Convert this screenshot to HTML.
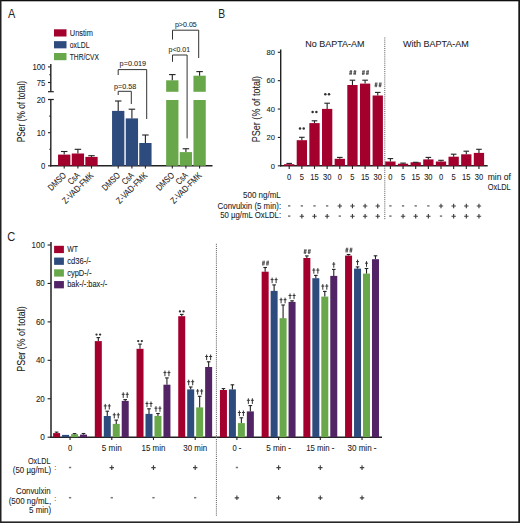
<!DOCTYPE html>
<html><head><meta charset="utf-8"><title>figure</title>
<style>
html,body{margin:0;padding:0;background:#fff;}
body{width:520px;height:523px;overflow:hidden;}
svg{display:block;font-family:"Liberation Sans", sans-serif;}
</style></head>
<body>
<svg width="520" height="523" viewBox="0 0 520 523">
<rect x="0" y="0" width="520" height="523" fill="#fff"/>
<text x="7.90" y="17.90" font-size="12.5" textLength="7.30" lengthAdjust="spacingAndGlyphs" fill="#222" stroke="#222" stroke-width="0">A</text>
<rect x="54.00" y="29.30" width="12.50" height="7.20" fill="#a3002d"/>
<text x="69.80" y="35.80" font-size="8.3" textLength="23.10" lengthAdjust="spacingAndGlyphs" fill="#222" stroke="#222" stroke-width="0.08">Unstim</text>
<rect x="54.00" y="41.15" width="12.50" height="7.20" fill="#2e4b7e"/>
<text x="69.80" y="47.65" font-size="8.3" textLength="19.80" lengthAdjust="spacingAndGlyphs" fill="#222" stroke="#222" stroke-width="0.08">oxLDL</text>
<rect x="54.00" y="53.00" width="12.50" height="7.20" fill="#69a84a"/>
<text x="69.80" y="59.50" font-size="8.3" textLength="29.20" lengthAdjust="spacingAndGlyphs" fill="#222" stroke="#222" stroke-width="0.08">THR/CVX</text>
<line x1="50.80" y1="64.00" x2="50.80" y2="91.70" stroke="#222" stroke-width="1.4"/>
<line x1="50.80" y1="99.50" x2="50.80" y2="166.40" stroke="#222" stroke-width="1.4"/>
<line x1="48.00" y1="91.70" x2="53.80" y2="91.70" stroke="#222" stroke-width="1.2"/>
<line x1="48.00" y1="99.50" x2="53.80" y2="99.50" stroke="#222" stroke-width="1.2"/>
<line x1="48.00" y1="66.90" x2="50.80" y2="66.90" stroke="#222" stroke-width="1.1"/>
<line x1="48.00" y1="82.50" x2="50.80" y2="82.50" stroke="#222" stroke-width="1.1"/>
<line x1="49.30" y1="74.70" x2="50.80" y2="74.70" stroke="#222" stroke-width="1.1"/>
<line x1="48.00" y1="132.70" x2="50.80" y2="132.70" stroke="#222" stroke-width="1.1"/>
<line x1="48.00" y1="165.80" x2="50.80" y2="165.80" stroke="#222" stroke-width="1.1"/>
<line x1="49.30" y1="149.25" x2="50.80" y2="149.25" stroke="#222" stroke-width="1.1"/>
<line x1="49.30" y1="116.15" x2="50.80" y2="116.15" stroke="#222" stroke-width="1.1"/>
<text x="45.40" y="69.90" font-size="8.6" text-anchor="end" textLength="12.90" lengthAdjust="spacingAndGlyphs" fill="#222" stroke="#222" stroke-width="0.08">100</text>
<text x="45.40" y="85.50" font-size="8.6" text-anchor="end" textLength="8.60" lengthAdjust="spacingAndGlyphs" fill="#222" stroke="#222" stroke-width="0.08">75</text>
<text x="45.40" y="102.60" font-size="8.6" text-anchor="end" textLength="8.60" lengthAdjust="spacingAndGlyphs" fill="#222" stroke="#222" stroke-width="0.08">20</text>
<text x="45.40" y="135.70" font-size="8.6" text-anchor="end" textLength="8.60" lengthAdjust="spacingAndGlyphs" fill="#222" stroke="#222" stroke-width="0.08">10</text>
<text x="45.40" y="168.80" font-size="8.6" text-anchor="end" textLength="4.30" lengthAdjust="spacingAndGlyphs" fill="#222" stroke="#222" stroke-width="0.08">0</text>
<text transform="translate(24.60,111.60) rotate(-90)" font-size="10.3" text-anchor="middle" textLength="61.50" lengthAdjust="spacingAndGlyphs" fill="#222" stroke="#222" stroke-width="0.08">PSer (% of total)</text>
<line x1="50.10" y1="165.80" x2="212.50" y2="165.80" stroke="#222" stroke-width="1.4"/>
<rect x="58.05" y="154.60" width="12.30" height="11.20" fill="#a3002d"/>
<line x1="64.20" y1="151.50" x2="64.20" y2="154.60" stroke="#222" stroke-width="1.1"/>
<line x1="60.95" y1="151.50" x2="67.45" y2="151.50" stroke="#222" stroke-width="1.1"/>
<rect x="71.75" y="153.50" width="12.30" height="12.30" fill="#a3002d"/>
<line x1="77.90" y1="149.30" x2="77.90" y2="153.50" stroke="#222" stroke-width="1.1"/>
<line x1="74.65" y1="149.30" x2="81.15" y2="149.30" stroke="#222" stroke-width="1.1"/>
<rect x="85.35" y="156.90" width="12.30" height="8.90" fill="#a3002d"/>
<line x1="91.50" y1="155.70" x2="91.50" y2="156.90" stroke="#222" stroke-width="1.1"/>
<line x1="88.25" y1="155.70" x2="94.75" y2="155.70" stroke="#222" stroke-width="1.1"/>
<rect x="112.05" y="110.90" width="12.30" height="54.90" fill="#2e4b7e"/>
<line x1="118.20" y1="101.00" x2="118.20" y2="110.90" stroke="#222" stroke-width="1.1"/>
<line x1="114.95" y1="101.00" x2="121.45" y2="101.00" stroke="#222" stroke-width="1.1"/>
<rect x="125.75" y="118.40" width="12.30" height="47.40" fill="#2e4b7e"/>
<line x1="131.90" y1="109.20" x2="131.90" y2="118.40" stroke="#222" stroke-width="1.1"/>
<line x1="128.65" y1="109.20" x2="135.15" y2="109.20" stroke="#222" stroke-width="1.1"/>
<rect x="139.25" y="143.00" width="12.30" height="22.80" fill="#2e4b7e"/>
<line x1="145.40" y1="135.00" x2="145.40" y2="143.00" stroke="#222" stroke-width="1.1"/>
<line x1="142.15" y1="135.00" x2="148.65" y2="135.00" stroke="#222" stroke-width="1.1"/>
<rect x="166.15" y="80.30" width="12.30" height="11.50" fill="#69a84a"/>
<rect x="166.15" y="100.00" width="12.30" height="65.80" fill="#69a84a"/>
<line x1="172.30" y1="74.60" x2="172.30" y2="80.30" stroke="#222" stroke-width="1.1"/>
<line x1="169.05" y1="74.60" x2="175.55" y2="74.60" stroke="#222" stroke-width="1.1"/>
<rect x="179.75" y="152.10" width="12.30" height="13.70" fill="#69a84a"/>
<line x1="185.90" y1="148.75" x2="185.90" y2="152.10" stroke="#222" stroke-width="1.1"/>
<line x1="182.65" y1="148.75" x2="189.15" y2="148.75" stroke="#222" stroke-width="1.1"/>
<rect x="193.45" y="75.70" width="12.30" height="16.10" fill="#69a84a"/>
<rect x="193.45" y="100.00" width="12.30" height="65.80" fill="#69a84a"/>
<line x1="199.60" y1="71.60" x2="199.60" y2="75.70" stroke="#222" stroke-width="1.1"/>
<line x1="196.35" y1="71.60" x2="202.85" y2="71.60" stroke="#222" stroke-width="1.1"/>
<line x1="64.20" y1="165.80" x2="64.20" y2="168.60" stroke="#222" stroke-width="1.1"/>
<line x1="77.90" y1="165.80" x2="77.90" y2="168.60" stroke="#222" stroke-width="1.1"/>
<line x1="91.50" y1="165.80" x2="91.50" y2="168.60" stroke="#222" stroke-width="1.1"/>
<line x1="118.20" y1="165.80" x2="118.20" y2="168.60" stroke="#222" stroke-width="1.1"/>
<line x1="131.90" y1="165.80" x2="131.90" y2="168.60" stroke="#222" stroke-width="1.1"/>
<line x1="145.40" y1="165.80" x2="145.40" y2="168.60" stroke="#222" stroke-width="1.1"/>
<line x1="172.30" y1="165.80" x2="172.30" y2="168.60" stroke="#222" stroke-width="1.1"/>
<line x1="185.90" y1="165.80" x2="185.90" y2="168.60" stroke="#222" stroke-width="1.1"/>
<line x1="199.60" y1="165.80" x2="199.60" y2="168.60" stroke="#222" stroke-width="1.1"/>
<text transform="translate(66.80,176.00) rotate(-45)" font-size="9" text-anchor="end" textLength="21.5" lengthAdjust="spacingAndGlyphs" fill="#222" stroke="#222" stroke-width="0.08">DMSO</text>
<text transform="translate(80.50,176.00) rotate(-45)" font-size="9" text-anchor="end" textLength="13.0" lengthAdjust="spacingAndGlyphs" fill="#222" stroke="#222" stroke-width="0.08">CsA</text>
<text transform="translate(94.10,176.00) rotate(-45)" font-size="9" text-anchor="end" textLength="40.0" lengthAdjust="spacingAndGlyphs" fill="#222" stroke="#222" stroke-width="0.08">Z-VAD-FMK</text>
<text transform="translate(120.80,176.00) rotate(-45)" font-size="9" text-anchor="end" textLength="21.5" lengthAdjust="spacingAndGlyphs" fill="#222" stroke="#222" stroke-width="0.08">DMSO</text>
<text transform="translate(134.50,176.00) rotate(-45)" font-size="9" text-anchor="end" textLength="13.0" lengthAdjust="spacingAndGlyphs" fill="#222" stroke="#222" stroke-width="0.08">CsA</text>
<text transform="translate(148.00,176.00) rotate(-45)" font-size="9" text-anchor="end" textLength="40.0" lengthAdjust="spacingAndGlyphs" fill="#222" stroke="#222" stroke-width="0.08">Z-VAD-FMK</text>
<text transform="translate(174.90,176.00) rotate(-45)" font-size="9" text-anchor="end" textLength="21.5" lengthAdjust="spacingAndGlyphs" fill="#222" stroke="#222" stroke-width="0.08">DMSO</text>
<text transform="translate(188.50,176.00) rotate(-45)" font-size="9" text-anchor="end" textLength="13.0" lengthAdjust="spacingAndGlyphs" fill="#222" stroke="#222" stroke-width="0.08">CsA</text>
<text transform="translate(202.20,176.00) rotate(-45)" font-size="9" text-anchor="end" textLength="40.0" lengthAdjust="spacingAndGlyphs" fill="#222" stroke="#222" stroke-width="0.08">Z-VAD-FMK</text>
<polyline points="118.2,95.0 118.2,91.3 131.3,91.3 131.3,104.0" fill="none" stroke="#333" stroke-width="1"/>
<polyline points="118.2,75.0 118.2,69.6 146.7,69.6 146.7,119.0" fill="none" stroke="#333" stroke-width="1"/>
<polyline points="172.5,61.8 172.5,55.0 187.1,55.0 187.1,138.4" fill="none" stroke="#333" stroke-width="1"/>
<polyline points="172.5,39.6 172.5,30.2 198.7,30.2 198.7,58.0" fill="none" stroke="#333" stroke-width="1"/>
<text x="114.00" y="88.80" font-size="7.8" textLength="22.20" lengthAdjust="spacingAndGlyphs" fill="#2a2a2a" stroke="#2a2a2a" stroke-width="0.08">p=0.58</text>
<text x="119.60" y="66.30" font-size="7.8" textLength="26.50" lengthAdjust="spacingAndGlyphs" fill="#2a2a2a" stroke="#2a2a2a" stroke-width="0.08">p=0.019</text>
<text x="168.60" y="52.30" font-size="7.8" textLength="21.40" lengthAdjust="spacingAndGlyphs" fill="#2a2a2a" stroke="#2a2a2a" stroke-width="0.08">p&lt;0.01</text>
<text x="174.90" y="26.60" font-size="7.8" textLength="21.90" lengthAdjust="spacingAndGlyphs" fill="#2a2a2a" stroke="#2a2a2a" stroke-width="0.08">p&gt;0.05</text>
<text x="218.30" y="17.80" font-size="12.5" textLength="6.90" lengthAdjust="spacingAndGlyphs" fill="#222" stroke="#222" stroke-width="0">B</text>
<line x1="280.70" y1="49.60" x2="280.70" y2="166.40" stroke="#222" stroke-width="1.4"/>
<line x1="280.00" y1="165.80" x2="487.70" y2="165.80" stroke="#222" stroke-width="1.4"/>
<line x1="277.80" y1="165.80" x2="280.70" y2="165.80" stroke="#222" stroke-width="1.1"/>
<text x="275.00" y="168.60" font-size="8.0" text-anchor="end" textLength="4.20" lengthAdjust="spacingAndGlyphs" fill="#222" stroke="#222" stroke-width="0.08">0</text>
<line x1="277.80" y1="137.43" x2="280.70" y2="137.43" stroke="#222" stroke-width="1.1"/>
<text x="275.00" y="140.23" font-size="8.0" text-anchor="end" textLength="8.40" lengthAdjust="spacingAndGlyphs" fill="#222" stroke="#222" stroke-width="0.08">20</text>
<line x1="277.80" y1="109.05" x2="280.70" y2="109.05" stroke="#222" stroke-width="1.1"/>
<text x="275.00" y="111.85" font-size="8.0" text-anchor="end" textLength="8.40" lengthAdjust="spacingAndGlyphs" fill="#222" stroke="#222" stroke-width="0.08">40</text>
<line x1="277.80" y1="80.67" x2="280.70" y2="80.67" stroke="#222" stroke-width="1.1"/>
<text x="275.00" y="83.47" font-size="8.0" text-anchor="end" textLength="8.40" lengthAdjust="spacingAndGlyphs" fill="#222" stroke="#222" stroke-width="0.08">60</text>
<line x1="277.80" y1="52.30" x2="280.70" y2="52.30" stroke="#222" stroke-width="1.1"/>
<text x="275.00" y="55.10" font-size="8.0" text-anchor="end" textLength="8.40" lengthAdjust="spacingAndGlyphs" fill="#222" stroke="#222" stroke-width="0.08">80</text>
<text transform="translate(259.60,109.10) rotate(-90)" font-size="10.5" text-anchor="middle" textLength="66.20" lengthAdjust="spacingAndGlyphs" fill="#222" stroke="#222" stroke-width="0.08">PSer (% of total)</text>
<text x="305.20" y="47.00" font-size="9.8" textLength="59.30" lengthAdjust="spacingAndGlyphs" fill="#222" stroke="#222" stroke-width="0.08">No BAPTA-AM</text>
<text x="402.90" y="47.00" font-size="9.8" textLength="66.00" lengthAdjust="spacingAndGlyphs" fill="#222" stroke="#222" stroke-width="0.08">With BAPTA-AM</text>
<line x1="384.80" y1="37.50" x2="384.80" y2="219.50" stroke="#555" stroke-width="1.0" stroke-dasharray="1,1.1"/>
<rect x="284.05" y="164.20" width="10.30" height="1.60" fill="#a3002d"/>
<line x1="289.20" y1="163.40" x2="289.20" y2="164.20" stroke="#222" stroke-width="1.1"/>
<line x1="286.40" y1="163.40" x2="292.00" y2="163.40" stroke="#222" stroke-width="1.1"/>
<line x1="289.20" y1="165.80" x2="289.20" y2="168.90" stroke="#222" stroke-width="1.1"/>
<text x="289.20" y="179.60" font-size="8.4" text-anchor="middle" textLength="4.20" lengthAdjust="spacingAndGlyphs" fill="#222" stroke="#222" stroke-width="0.08">0</text>
<rect x="296.70" y="140.20" width="10.30" height="25.60" fill="#a3002d"/>
<line x1="301.85" y1="137.30" x2="301.85" y2="140.20" stroke="#222" stroke-width="1.1"/>
<line x1="299.05" y1="137.30" x2="304.65" y2="137.30" stroke="#222" stroke-width="1.1"/>
<line x1="301.85" y1="165.80" x2="301.85" y2="168.90" stroke="#222" stroke-width="1.1"/>
<text x="301.85" y="179.60" font-size="8.4" text-anchor="middle" textLength="4.20" lengthAdjust="spacingAndGlyphs" fill="#222" stroke="#222" stroke-width="0.08">5</text>
<rect x="309.35" y="123.10" width="10.30" height="42.70" fill="#a3002d"/>
<line x1="314.50" y1="120.80" x2="314.50" y2="123.10" stroke="#222" stroke-width="1.1"/>
<line x1="311.70" y1="120.80" x2="317.30" y2="120.80" stroke="#222" stroke-width="1.1"/>
<line x1="314.50" y1="165.80" x2="314.50" y2="168.90" stroke="#222" stroke-width="1.1"/>
<text x="314.50" y="179.60" font-size="8.4" text-anchor="middle" textLength="8.40" lengthAdjust="spacingAndGlyphs" fill="#222" stroke="#222" stroke-width="0.08">15</text>
<rect x="322.00" y="108.90" width="10.30" height="56.90" fill="#a3002d"/>
<line x1="327.15" y1="103.20" x2="327.15" y2="108.90" stroke="#222" stroke-width="1.1"/>
<line x1="324.35" y1="103.20" x2="329.95" y2="103.20" stroke="#222" stroke-width="1.1"/>
<line x1="327.15" y1="165.80" x2="327.15" y2="168.90" stroke="#222" stroke-width="1.1"/>
<text x="327.15" y="179.60" font-size="8.4" text-anchor="middle" textLength="8.40" lengthAdjust="spacingAndGlyphs" fill="#222" stroke="#222" stroke-width="0.08">30</text>
<rect x="334.65" y="158.80" width="10.30" height="7.00" fill="#a3002d"/>
<line x1="339.80" y1="157.40" x2="339.80" y2="158.80" stroke="#222" stroke-width="1.1"/>
<line x1="337.00" y1="157.40" x2="342.60" y2="157.40" stroke="#222" stroke-width="1.1"/>
<line x1="339.80" y1="165.80" x2="339.80" y2="168.90" stroke="#222" stroke-width="1.1"/>
<text x="339.80" y="179.60" font-size="8.4" text-anchor="middle" textLength="4.20" lengthAdjust="spacingAndGlyphs" fill="#222" stroke="#222" stroke-width="0.08">0</text>
<rect x="347.30" y="85.00" width="10.30" height="80.80" fill="#a3002d"/>
<line x1="352.45" y1="80.20" x2="352.45" y2="85.00" stroke="#222" stroke-width="1.1"/>
<line x1="349.65" y1="80.20" x2="355.25" y2="80.20" stroke="#222" stroke-width="1.1"/>
<line x1="352.45" y1="165.80" x2="352.45" y2="168.90" stroke="#222" stroke-width="1.1"/>
<text x="352.45" y="179.60" font-size="8.4" text-anchor="middle" textLength="4.20" lengthAdjust="spacingAndGlyphs" fill="#222" stroke="#222" stroke-width="0.08">5</text>
<rect x="359.95" y="83.60" width="10.30" height="82.20" fill="#a3002d"/>
<line x1="365.10" y1="80.20" x2="365.10" y2="83.60" stroke="#222" stroke-width="1.1"/>
<line x1="362.30" y1="80.20" x2="367.90" y2="80.20" stroke="#222" stroke-width="1.1"/>
<line x1="365.10" y1="165.80" x2="365.10" y2="168.90" stroke="#222" stroke-width="1.1"/>
<text x="365.10" y="179.60" font-size="8.4" text-anchor="middle" textLength="8.40" lengthAdjust="spacingAndGlyphs" fill="#222" stroke="#222" stroke-width="0.08">15</text>
<rect x="372.60" y="95.50" width="10.30" height="70.30" fill="#a3002d"/>
<line x1="377.75" y1="92.40" x2="377.75" y2="95.50" stroke="#222" stroke-width="1.1"/>
<line x1="374.95" y1="92.40" x2="380.55" y2="92.40" stroke="#222" stroke-width="1.1"/>
<line x1="377.75" y1="165.80" x2="377.75" y2="168.90" stroke="#222" stroke-width="1.1"/>
<text x="377.75" y="179.60" font-size="8.4" text-anchor="middle" textLength="8.40" lengthAdjust="spacingAndGlyphs" fill="#222" stroke="#222" stroke-width="0.08">30</text>
<rect x="385.25" y="161.50" width="10.30" height="4.30" fill="#a3002d"/>
<line x1="390.40" y1="158.60" x2="390.40" y2="161.50" stroke="#222" stroke-width="1.1"/>
<line x1="387.60" y1="158.60" x2="393.20" y2="158.60" stroke="#222" stroke-width="1.1"/>
<line x1="390.40" y1="165.80" x2="390.40" y2="168.90" stroke="#222" stroke-width="1.1"/>
<text x="390.40" y="179.60" font-size="8.4" text-anchor="middle" textLength="4.20" lengthAdjust="spacingAndGlyphs" fill="#222" stroke="#222" stroke-width="0.08">0</text>
<rect x="397.90" y="163.70" width="10.30" height="2.10" fill="#a3002d"/>
<line x1="403.05" y1="163.10" x2="403.05" y2="163.70" stroke="#222" stroke-width="1.1"/>
<line x1="400.25" y1="163.10" x2="405.85" y2="163.10" stroke="#222" stroke-width="1.1"/>
<line x1="403.05" y1="165.80" x2="403.05" y2="168.90" stroke="#222" stroke-width="1.1"/>
<text x="403.05" y="179.60" font-size="8.4" text-anchor="middle" textLength="4.20" lengthAdjust="spacingAndGlyphs" fill="#222" stroke="#222" stroke-width="0.08">5</text>
<rect x="410.55" y="162.30" width="10.30" height="3.50" fill="#a3002d"/>
<line x1="412.90" y1="162.30" x2="418.50" y2="162.30" stroke="#222" stroke-width="1.1"/>
<line x1="415.70" y1="165.80" x2="415.70" y2="168.90" stroke="#222" stroke-width="1.1"/>
<text x="415.70" y="179.60" font-size="8.4" text-anchor="middle" textLength="8.40" lengthAdjust="spacingAndGlyphs" fill="#222" stroke="#222" stroke-width="0.08">15</text>
<rect x="423.20" y="159.40" width="10.30" height="6.40" fill="#a3002d"/>
<line x1="428.35" y1="157.40" x2="428.35" y2="159.40" stroke="#222" stroke-width="1.1"/>
<line x1="425.55" y1="157.40" x2="431.15" y2="157.40" stroke="#222" stroke-width="1.1"/>
<line x1="428.35" y1="165.80" x2="428.35" y2="168.90" stroke="#222" stroke-width="1.1"/>
<text x="428.35" y="179.60" font-size="8.4" text-anchor="middle" textLength="8.40" lengthAdjust="spacingAndGlyphs" fill="#222" stroke="#222" stroke-width="0.08">30</text>
<rect x="435.85" y="161.50" width="10.30" height="4.30" fill="#a3002d"/>
<line x1="441.00" y1="160.30" x2="441.00" y2="161.50" stroke="#222" stroke-width="1.1"/>
<line x1="438.20" y1="160.30" x2="443.80" y2="160.30" stroke="#222" stroke-width="1.1"/>
<line x1="441.00" y1="165.80" x2="441.00" y2="168.90" stroke="#222" stroke-width="1.1"/>
<text x="441.00" y="179.60" font-size="8.4" text-anchor="middle" textLength="4.20" lengthAdjust="spacingAndGlyphs" fill="#222" stroke="#222" stroke-width="0.08">0</text>
<rect x="448.50" y="156.70" width="10.30" height="9.10" fill="#a3002d"/>
<line x1="453.65" y1="154.20" x2="453.65" y2="156.70" stroke="#222" stroke-width="1.1"/>
<line x1="450.85" y1="154.20" x2="456.45" y2="154.20" stroke="#222" stroke-width="1.1"/>
<line x1="453.65" y1="165.80" x2="453.65" y2="168.90" stroke="#222" stroke-width="1.1"/>
<text x="453.65" y="179.60" font-size="8.4" text-anchor="middle" textLength="4.20" lengthAdjust="spacingAndGlyphs" fill="#222" stroke="#222" stroke-width="0.08">5</text>
<rect x="461.15" y="154.30" width="10.30" height="11.50" fill="#a3002d"/>
<line x1="466.30" y1="151.20" x2="466.30" y2="154.30" stroke="#222" stroke-width="1.1"/>
<line x1="463.50" y1="151.20" x2="469.10" y2="151.20" stroke="#222" stroke-width="1.1"/>
<line x1="466.30" y1="165.80" x2="466.30" y2="168.90" stroke="#222" stroke-width="1.1"/>
<text x="466.30" y="179.60" font-size="8.4" text-anchor="middle" textLength="8.40" lengthAdjust="spacingAndGlyphs" fill="#222" stroke="#222" stroke-width="0.08">15</text>
<rect x="473.80" y="152.90" width="10.30" height="12.90" fill="#a3002d"/>
<line x1="478.95" y1="149.30" x2="478.95" y2="152.90" stroke="#222" stroke-width="1.1"/>
<line x1="476.15" y1="149.30" x2="481.75" y2="149.30" stroke="#222" stroke-width="1.1"/>
<line x1="478.95" y1="165.80" x2="478.95" y2="168.90" stroke="#222" stroke-width="1.1"/>
<text x="478.95" y="179.60" font-size="8.4" text-anchor="middle" textLength="8.40" lengthAdjust="spacingAndGlyphs" fill="#222" stroke="#222" stroke-width="0.08">30</text>
<text x="487.70" y="179.60" font-size="8.4" textLength="23.20" lengthAdjust="spacingAndGlyphs" fill="#222" stroke="#222" stroke-width="0.08">min of</text>
<text x="487.70" y="190.00" font-size="8.4" textLength="23.00" lengthAdjust="spacingAndGlyphs" fill="#222" stroke="#222" stroke-width="0.08">OxLDL</text>
<circle cx="300.00" cy="128.40" r="1.25" fill="#303030"/>
<circle cx="303.70" cy="128.40" r="1.25" fill="#303030"/>
<circle cx="312.65" cy="111.90" r="1.25" fill="#303030"/>
<circle cx="316.35" cy="111.90" r="1.25" fill="#303030"/>
<circle cx="325.30" cy="94.30" r="1.25" fill="#303030"/>
<circle cx="329.00" cy="94.30" r="1.25" fill="#303030"/>
<path d="M349.86,75.00L350.46,70.20M351.07,75.00L351.67,70.20M349.25,73.42H351.95M349.45,71.78H352.15" stroke="#4a4a4a" stroke-width="0.85" fill="none"/>
<path d="M353.96,75.00L354.56,70.20M355.17,75.00L355.77,70.20M353.35,73.42H356.05M353.55,71.78H356.25" stroke="#4a4a4a" stroke-width="0.85" fill="none"/>
<path d="M362.51,75.00L363.11,70.20M363.72,75.00L364.32,70.20M361.90,73.42H364.60M362.10,71.78H364.80" stroke="#4a4a4a" stroke-width="0.85" fill="none"/>
<path d="M366.61,75.00L367.21,70.20M367.82,75.00L368.43,70.20M366.00,73.42H368.70M366.20,71.78H368.90" stroke="#4a4a4a" stroke-width="0.85" fill="none"/>
<path d="M375.16,87.20L375.76,82.40M376.37,87.20L376.97,82.40M374.55,85.62H377.25M374.75,83.98H377.45" stroke="#4a4a4a" stroke-width="0.85" fill="none"/>
<path d="M379.26,87.20L379.86,82.40M380.47,87.20L381.07,82.40M378.65,85.62H381.35M378.85,83.98H381.55" stroke="#4a4a4a" stroke-width="0.85" fill="none"/>
<text x="280.80" y="198.20" font-size="8.5" text-anchor="end" textLength="37.80" lengthAdjust="spacingAndGlyphs" fill="#222" stroke="#222" stroke-width="0.08">500 ng/mL</text>
<text x="281.10" y="208.60" font-size="8.5" text-anchor="end" textLength="63.50" lengthAdjust="spacingAndGlyphs" fill="#222" stroke="#222" stroke-width="0.08">Convulxin (5 min):</text>
<text x="281.10" y="218.40" font-size="8.5" text-anchor="end" textLength="60.90" lengthAdjust="spacingAndGlyphs" fill="#222" stroke="#222" stroke-width="0.08">50 µg/mL OxLDL:</text>
<rect x="288.05" y="205.15" width="2.3" height="1.5" fill="#767676"/>
<rect x="288.05" y="215.35" width="2.3" height="1.5" fill="#767676"/>
<rect x="300.70" y="205.15" width="2.3" height="1.5" fill="#767676"/>
<path d="M299.65,216.20H304.05M301.85,213.90V218.50" stroke="#404040" stroke-width="1.15" fill="none"/>
<rect x="313.35" y="205.15" width="2.3" height="1.5" fill="#767676"/>
<path d="M312.30,216.20H316.70M314.50,213.90V218.50" stroke="#404040" stroke-width="1.15" fill="none"/>
<rect x="326.00" y="205.15" width="2.3" height="1.5" fill="#767676"/>
<path d="M324.95,216.20H329.35M327.15,213.90V218.50" stroke="#404040" stroke-width="1.15" fill="none"/>
<path d="M337.60,206.00H342.00M339.80,203.70V208.30" stroke="#404040" stroke-width="1.15" fill="none"/>
<rect x="338.65" y="215.35" width="2.3" height="1.5" fill="#767676"/>
<path d="M350.25,206.00H354.65M352.45,203.70V208.30" stroke="#404040" stroke-width="1.15" fill="none"/>
<path d="M350.25,216.20H354.65M352.45,213.90V218.50" stroke="#404040" stroke-width="1.15" fill="none"/>
<path d="M362.90,206.00H367.30M365.10,203.70V208.30" stroke="#404040" stroke-width="1.15" fill="none"/>
<path d="M362.90,216.20H367.30M365.10,213.90V218.50" stroke="#404040" stroke-width="1.15" fill="none"/>
<path d="M375.55,206.00H379.95M377.75,203.70V208.30" stroke="#404040" stroke-width="1.15" fill="none"/>
<path d="M375.55,216.20H379.95M377.75,213.90V218.50" stroke="#404040" stroke-width="1.15" fill="none"/>
<rect x="389.25" y="205.15" width="2.3" height="1.5" fill="#767676"/>
<rect x="389.25" y="215.35" width="2.3" height="1.5" fill="#767676"/>
<rect x="401.90" y="205.15" width="2.3" height="1.5" fill="#767676"/>
<path d="M400.85,216.20H405.25M403.05,213.90V218.50" stroke="#404040" stroke-width="1.15" fill="none"/>
<rect x="414.55" y="205.15" width="2.3" height="1.5" fill="#767676"/>
<path d="M413.50,216.20H417.90M415.70,213.90V218.50" stroke="#404040" stroke-width="1.15" fill="none"/>
<rect x="427.20" y="205.15" width="2.3" height="1.5" fill="#767676"/>
<path d="M426.15,216.20H430.55M428.35,213.90V218.50" stroke="#404040" stroke-width="1.15" fill="none"/>
<path d="M438.80,206.00H443.20M441.00,203.70V208.30" stroke="#404040" stroke-width="1.15" fill="none"/>
<rect x="439.85" y="215.35" width="2.3" height="1.5" fill="#767676"/>
<path d="M451.45,206.00H455.85M453.65,203.70V208.30" stroke="#404040" stroke-width="1.15" fill="none"/>
<path d="M451.45,216.20H455.85M453.65,213.90V218.50" stroke="#404040" stroke-width="1.15" fill="none"/>
<path d="M464.10,206.00H468.50M466.30,203.70V208.30" stroke="#404040" stroke-width="1.15" fill="none"/>
<path d="M464.10,216.20H468.50M466.30,213.90V218.50" stroke="#404040" stroke-width="1.15" fill="none"/>
<path d="M476.75,206.00H481.15M478.95,203.70V208.30" stroke="#404040" stroke-width="1.15" fill="none"/>
<path d="M476.75,216.20H481.15M478.95,213.90V218.50" stroke="#404040" stroke-width="1.15" fill="none"/>
<text x="7.30" y="240.80" font-size="12.5" textLength="8.00" lengthAdjust="spacingAndGlyphs" fill="#222" stroke="#222" stroke-width="0">C</text>
<line x1="51.00" y1="242.10" x2="51.00" y2="437.80" stroke="#222" stroke-width="1.5"/>
<line x1="50.30" y1="437.20" x2="382.00" y2="437.20" stroke="#222" stroke-width="1.5"/>
<line x1="47.60" y1="437.20" x2="51.00" y2="437.20" stroke="#222" stroke-width="1.1"/>
<text x="44.80" y="440.20" font-size="8.8" text-anchor="end" textLength="4.60" lengthAdjust="spacingAndGlyphs" fill="#222" stroke="#222" stroke-width="0.08">0</text>
<line x1="47.60" y1="398.76" x2="51.00" y2="398.76" stroke="#222" stroke-width="1.1"/>
<text x="44.80" y="401.76" font-size="8.8" text-anchor="end" textLength="8.90" lengthAdjust="spacingAndGlyphs" fill="#222" stroke="#222" stroke-width="0.08">20</text>
<line x1="47.60" y1="360.32" x2="51.00" y2="360.32" stroke="#222" stroke-width="1.1"/>
<text x="44.80" y="363.32" font-size="8.8" text-anchor="end" textLength="8.90" lengthAdjust="spacingAndGlyphs" fill="#222" stroke="#222" stroke-width="0.08">40</text>
<line x1="47.60" y1="321.88" x2="51.00" y2="321.88" stroke="#222" stroke-width="1.1"/>
<text x="44.80" y="324.88" font-size="8.8" text-anchor="end" textLength="8.90" lengthAdjust="spacingAndGlyphs" fill="#222" stroke="#222" stroke-width="0.08">60</text>
<line x1="47.60" y1="283.44" x2="51.00" y2="283.44" stroke="#222" stroke-width="1.1"/>
<text x="44.80" y="286.44" font-size="8.8" text-anchor="end" textLength="8.90" lengthAdjust="spacingAndGlyphs" fill="#222" stroke="#222" stroke-width="0.08">80</text>
<line x1="47.60" y1="245.00" x2="51.00" y2="245.00" stroke="#222" stroke-width="1.1"/>
<text x="44.80" y="248.00" font-size="8.8" text-anchor="end" textLength="13.20" lengthAdjust="spacingAndGlyphs" fill="#222" stroke="#222" stroke-width="0.08">100</text>
<text transform="translate(25.30,339.00) rotate(-90)" font-size="10.5" text-anchor="middle" textLength="65.50" lengthAdjust="spacingAndGlyphs" fill="#222" stroke="#222" stroke-width="0.08">PSer (% of total)</text>
<rect x="54.10" y="245.80" width="9.80" height="7.30" fill="#a3002d"/>
<text x="67.20" y="251.90" font-size="8.2" textLength="10.70" lengthAdjust="spacingAndGlyphs" fill="#222" stroke="#222" stroke-width="0.08">WT</text>
<rect x="54.10" y="257.55" width="9.80" height="7.30" fill="#2e4b7e"/>
<text x="67.20" y="263.90" font-size="8.2" textLength="23.70" lengthAdjust="spacingAndGlyphs" fill="#222" stroke="#222" stroke-width="0.08">cd36-/-</text>
<rect x="54.10" y="269.30" width="9.80" height="7.30" fill="#69a84a"/>
<text x="67.20" y="275.50" font-size="8.2" textLength="24.20" lengthAdjust="spacingAndGlyphs" fill="#222" stroke="#222" stroke-width="0.08">cypD-/-</text>
<rect x="54.10" y="281.05" width="9.80" height="7.30" fill="#522466"/>
<text x="67.20" y="286.90" font-size="8.2" textLength="40.10" lengthAdjust="spacingAndGlyphs" fill="#222" stroke="#222" stroke-width="0.08">bak-/-:bax-/-</text>
<line x1="216.40" y1="243.80" x2="216.40" y2="516.00" stroke="#555" stroke-width="1.0" stroke-dasharray="1,1.1"/>
<rect x="53.10" y="433.10" width="7.00" height="4.10" fill="#a3002d"/>
<line x1="56.60" y1="432.10" x2="56.60" y2="433.10" stroke="#222" stroke-width="1.1"/>
<line x1="54.80" y1="432.10" x2="58.40" y2="432.10" stroke="#222" stroke-width="1.1"/>
<rect x="62.07" y="434.90" width="7.00" height="2.30" fill="#2e4b7e"/>
<rect x="71.04" y="434.20" width="7.00" height="3.00" fill="#69a84a"/>
<line x1="74.54" y1="433.60" x2="74.54" y2="434.20" stroke="#222" stroke-width="1.1"/>
<line x1="72.74" y1="433.60" x2="76.34" y2="433.60" stroke="#222" stroke-width="1.1"/>
<rect x="80.01" y="434.60" width="7.00" height="2.60" fill="#522466"/>
<line x1="83.51" y1="433.50" x2="83.51" y2="434.60" stroke="#222" stroke-width="1.1"/>
<line x1="81.71" y1="433.50" x2="85.31" y2="433.50" stroke="#222" stroke-width="1.1"/>
<line x1="70.06" y1="437.20" x2="70.06" y2="440.00" stroke="#222" stroke-width="1.1"/>
<text x="70.06" y="451.00" font-size="8.4" text-anchor="middle" textLength="4.20" lengthAdjust="spacingAndGlyphs" fill="#222" stroke="#222" stroke-width="0.08">0</text>
<rect x="68.91" y="466.75" width="2.3" height="1.5" fill="#767676"/>
<rect x="68.91" y="496.95" width="2.3" height="1.5" fill="#767676"/>
<rect x="94.81" y="341.10" width="7.00" height="96.10" fill="#a3002d"/>
<line x1="98.31" y1="337.60" x2="98.31" y2="341.10" stroke="#222" stroke-width="1.1"/>
<line x1="96.51" y1="337.60" x2="100.11" y2="337.60" stroke="#222" stroke-width="1.1"/>
<circle cx="96.51" cy="334.60" r="1.15" fill="#303030"/>
<circle cx="100.11" cy="334.60" r="1.15" fill="#303030"/>
<rect x="103.78" y="416.00" width="7.00" height="21.20" fill="#2e4b7e"/>
<line x1="107.28" y1="411.20" x2="107.28" y2="416.00" stroke="#222" stroke-width="1.1"/>
<line x1="105.48" y1="411.20" x2="109.08" y2="411.20" stroke="#222" stroke-width="1.1"/>
<path d="M105.28,403.90V409.50M103.78,405.90H106.78" stroke="#333" stroke-width="1" fill="none"/>
<path d="M109.28,403.90V409.50M107.78,405.90H110.78" stroke="#333" stroke-width="1" fill="none"/>
<rect x="112.75" y="423.90" width="7.00" height="13.30" fill="#69a84a"/>
<line x1="116.25" y1="420.10" x2="116.25" y2="423.90" stroke="#222" stroke-width="1.1"/>
<line x1="114.45" y1="420.10" x2="118.05" y2="420.10" stroke="#222" stroke-width="1.1"/>
<path d="M114.25,412.80V418.40M112.75,414.80H115.75" stroke="#333" stroke-width="1" fill="none"/>
<path d="M118.25,412.80V418.40M116.75,414.80H119.75" stroke="#333" stroke-width="1" fill="none"/>
<rect x="121.72" y="400.90" width="7.00" height="36.30" fill="#522466"/>
<line x1="125.22" y1="399.60" x2="125.22" y2="400.90" stroke="#222" stroke-width="1.1"/>
<line x1="123.42" y1="399.60" x2="127.02" y2="399.60" stroke="#222" stroke-width="1.1"/>
<path d="M123.22,392.30V397.90M121.72,394.30H124.72" stroke="#333" stroke-width="1" fill="none"/>
<path d="M127.22,392.30V397.90M125.72,394.30H128.72" stroke="#333" stroke-width="1" fill="none"/>
<line x1="111.77" y1="437.20" x2="111.77" y2="440.00" stroke="#222" stroke-width="1.1"/>
<text x="111.77" y="451.00" font-size="8.4" text-anchor="middle" textLength="20.00" lengthAdjust="spacingAndGlyphs" fill="#222" stroke="#222" stroke-width="0.08">5 min</text>
<path d="M109.56,467.60H113.97M111.77,465.30V469.90" stroke="#404040" stroke-width="1.15" fill="none"/>
<rect x="110.61" y="496.95" width="2.3" height="1.5" fill="#767676"/>
<rect x="136.52" y="348.80" width="7.00" height="88.40" fill="#a3002d"/>
<line x1="140.02" y1="344.10" x2="140.02" y2="348.80" stroke="#222" stroke-width="1.1"/>
<line x1="138.22" y1="344.10" x2="141.82" y2="344.10" stroke="#222" stroke-width="1.1"/>
<circle cx="138.22" cy="341.10" r="1.15" fill="#303030"/>
<circle cx="141.82" cy="341.10" r="1.15" fill="#303030"/>
<rect x="145.49" y="413.90" width="7.00" height="23.30" fill="#2e4b7e"/>
<line x1="148.99" y1="408.80" x2="148.99" y2="413.90" stroke="#222" stroke-width="1.1"/>
<line x1="147.19" y1="408.80" x2="150.79" y2="408.80" stroke="#222" stroke-width="1.1"/>
<path d="M146.99,401.50V407.10M145.49,403.50H148.49" stroke="#333" stroke-width="1" fill="none"/>
<path d="M150.99,401.50V407.10M149.49,403.50H152.49" stroke="#333" stroke-width="1" fill="none"/>
<rect x="154.46" y="415.90" width="7.00" height="21.30" fill="#69a84a"/>
<line x1="157.96" y1="413.50" x2="157.96" y2="415.90" stroke="#222" stroke-width="1.1"/>
<line x1="156.16" y1="413.50" x2="159.76" y2="413.50" stroke="#222" stroke-width="1.1"/>
<path d="M155.96,406.20V411.80M154.46,408.20H157.46" stroke="#333" stroke-width="1" fill="none"/>
<path d="M159.96,406.20V411.80M158.46,408.20H161.46" stroke="#333" stroke-width="1" fill="none"/>
<rect x="163.43" y="384.70" width="7.00" height="52.50" fill="#522466"/>
<line x1="166.93" y1="377.90" x2="166.93" y2="384.70" stroke="#222" stroke-width="1.1"/>
<line x1="165.13" y1="377.90" x2="168.73" y2="377.90" stroke="#222" stroke-width="1.1"/>
<path d="M164.93,370.60V376.20M163.43,372.60H166.43" stroke="#333" stroke-width="1" fill="none"/>
<path d="M168.93,370.60V376.20M167.43,372.60H170.43" stroke="#333" stroke-width="1" fill="none"/>
<line x1="153.48" y1="437.20" x2="153.48" y2="440.00" stroke="#222" stroke-width="1.1"/>
<text x="153.48" y="451.00" font-size="8.4" text-anchor="middle" textLength="23.80" lengthAdjust="spacingAndGlyphs" fill="#222" stroke="#222" stroke-width="0.08">15 min</text>
<path d="M151.28,467.60H155.68M153.48,465.30V469.90" stroke="#404040" stroke-width="1.15" fill="none"/>
<rect x="152.33" y="496.95" width="2.3" height="1.5" fill="#767676"/>
<rect x="178.23" y="316.20" width="7.00" height="121.00" fill="#a3002d"/>
<line x1="181.73" y1="314.40" x2="181.73" y2="316.20" stroke="#222" stroke-width="1.1"/>
<line x1="179.93" y1="314.40" x2="183.53" y2="314.40" stroke="#222" stroke-width="1.1"/>
<circle cx="179.93" cy="311.40" r="1.15" fill="#303030"/>
<circle cx="183.53" cy="311.40" r="1.15" fill="#303030"/>
<rect x="187.20" y="389.40" width="7.00" height="47.80" fill="#2e4b7e"/>
<line x1="190.70" y1="387.00" x2="190.70" y2="389.40" stroke="#222" stroke-width="1.1"/>
<line x1="188.90" y1="387.00" x2="192.50" y2="387.00" stroke="#222" stroke-width="1.1"/>
<path d="M188.70,379.70V385.30M187.20,381.70H190.20" stroke="#333" stroke-width="1" fill="none"/>
<path d="M192.70,379.70V385.30M191.20,381.70H194.20" stroke="#333" stroke-width="1" fill="none"/>
<rect x="196.17" y="407.40" width="7.00" height="29.80" fill="#69a84a"/>
<line x1="199.67" y1="396.30" x2="199.67" y2="407.40" stroke="#222" stroke-width="1.1"/>
<line x1="197.87" y1="396.30" x2="201.47" y2="396.30" stroke="#222" stroke-width="1.1"/>
<path d="M197.67,389.00V394.60M196.17,391.00H199.17" stroke="#333" stroke-width="1" fill="none"/>
<path d="M201.67,389.00V394.60M200.17,391.00H203.17" stroke="#333" stroke-width="1" fill="none"/>
<rect x="205.14" y="367.00" width="7.00" height="70.20" fill="#522466"/>
<line x1="208.64" y1="361.80" x2="208.64" y2="367.00" stroke="#222" stroke-width="1.1"/>
<line x1="206.84" y1="361.80" x2="210.44" y2="361.80" stroke="#222" stroke-width="1.1"/>
<path d="M206.64,354.50V360.10M205.14,356.50H208.14" stroke="#333" stroke-width="1" fill="none"/>
<path d="M210.64,354.50V360.10M209.14,356.50H212.14" stroke="#333" stroke-width="1" fill="none"/>
<line x1="195.19" y1="437.20" x2="195.19" y2="440.00" stroke="#222" stroke-width="1.1"/>
<text x="195.19" y="451.00" font-size="8.4" text-anchor="middle" textLength="23.80" lengthAdjust="spacingAndGlyphs" fill="#222" stroke="#222" stroke-width="0.08">30 min</text>
<path d="M192.99,467.60H197.38M195.19,465.30V469.90" stroke="#404040" stroke-width="1.15" fill="none"/>
<rect x="194.03" y="496.95" width="2.3" height="1.5" fill="#767676"/>
<rect x="219.94" y="390.00" width="7.00" height="47.20" fill="#a3002d"/>
<line x1="223.44" y1="388.60" x2="223.44" y2="390.00" stroke="#222" stroke-width="1.1"/>
<line x1="221.64" y1="388.60" x2="225.24" y2="388.60" stroke="#222" stroke-width="1.1"/>
<rect x="228.91" y="389.40" width="7.00" height="47.80" fill="#2e4b7e"/>
<line x1="232.41" y1="384.80" x2="232.41" y2="389.40" stroke="#222" stroke-width="1.1"/>
<line x1="230.61" y1="384.80" x2="234.21" y2="384.80" stroke="#222" stroke-width="1.1"/>
<rect x="237.88" y="423.10" width="7.00" height="14.10" fill="#69a84a"/>
<line x1="241.38" y1="417.80" x2="241.38" y2="423.10" stroke="#222" stroke-width="1.1"/>
<line x1="239.58" y1="417.80" x2="243.18" y2="417.80" stroke="#222" stroke-width="1.1"/>
<path d="M239.38,410.50V416.10M237.88,412.50H240.88" stroke="#333" stroke-width="1" fill="none"/>
<path d="M243.38,410.50V416.10M241.88,412.50H244.88" stroke="#333" stroke-width="1" fill="none"/>
<rect x="246.85" y="411.40" width="7.00" height="25.80" fill="#522466"/>
<line x1="250.35" y1="405.60" x2="250.35" y2="411.40" stroke="#222" stroke-width="1.1"/>
<line x1="248.55" y1="405.60" x2="252.15" y2="405.60" stroke="#222" stroke-width="1.1"/>
<path d="M248.35,398.30V403.90M246.85,400.30H249.85" stroke="#333" stroke-width="1" fill="none"/>
<path d="M252.35,398.30V403.90M250.85,400.30H253.85" stroke="#333" stroke-width="1" fill="none"/>
<line x1="236.90" y1="437.20" x2="236.90" y2="440.00" stroke="#222" stroke-width="1.1"/>
<text x="236.90" y="451.00" font-size="8.4" text-anchor="middle" textLength="8.80" lengthAdjust="spacingAndGlyphs" fill="#222" stroke="#222" stroke-width="0.08">0 -</text>
<rect x="235.75" y="466.75" width="2.3" height="1.5" fill="#767676"/>
<path d="M234.70,497.80H239.09M236.90,495.50V500.10" stroke="#404040" stroke-width="1.15" fill="none"/>
<rect x="261.65" y="271.70" width="7.00" height="165.50" fill="#a3002d"/>
<line x1="265.15" y1="267.50" x2="265.15" y2="271.70" stroke="#222" stroke-width="1.1"/>
<line x1="263.35" y1="267.50" x2="266.95" y2="267.50" stroke="#222" stroke-width="1.1"/>
<path d="M262.56,265.50L263.16,260.70M263.77,265.50L264.38,260.70M261.95,263.92H264.65M262.15,262.28H264.85" stroke="#4a4a4a" stroke-width="0.85" fill="none"/>
<path d="M266.66,265.50L267.26,260.70M267.88,265.50L268.48,260.70M266.05,263.92H268.75M266.25,262.28H268.95" stroke="#4a4a4a" stroke-width="0.85" fill="none"/>
<rect x="270.62" y="290.90" width="7.00" height="146.30" fill="#2e4b7e"/>
<line x1="274.12" y1="284.90" x2="274.12" y2="290.90" stroke="#222" stroke-width="1.1"/>
<line x1="272.32" y1="284.90" x2="275.92" y2="284.90" stroke="#222" stroke-width="1.1"/>
<path d="M272.12,277.60V283.20M270.62,279.60H273.62" stroke="#333" stroke-width="1" fill="none"/>
<path d="M276.12,277.60V283.20M274.62,279.60H277.62" stroke="#333" stroke-width="1" fill="none"/>
<rect x="279.59" y="318.20" width="7.00" height="119.00" fill="#69a84a"/>
<line x1="283.09" y1="305.00" x2="283.09" y2="318.20" stroke="#222" stroke-width="1.1"/>
<line x1="281.29" y1="305.00" x2="284.89" y2="305.00" stroke="#222" stroke-width="1.1"/>
<path d="M281.09,297.70V303.30M279.59,299.70H282.59" stroke="#333" stroke-width="1" fill="none"/>
<path d="M285.09,297.70V303.30M283.59,299.70H286.59" stroke="#333" stroke-width="1" fill="none"/>
<rect x="288.56" y="301.90" width="7.00" height="135.30" fill="#522466"/>
<line x1="292.06" y1="300.80" x2="292.06" y2="301.90" stroke="#222" stroke-width="1.1"/>
<line x1="290.26" y1="300.80" x2="293.86" y2="300.80" stroke="#222" stroke-width="1.1"/>
<path d="M290.06,293.50V299.10M288.56,295.50H291.56" stroke="#333" stroke-width="1" fill="none"/>
<path d="M294.06,293.50V299.10M292.56,295.50H295.56" stroke="#333" stroke-width="1" fill="none"/>
<line x1="278.61" y1="437.20" x2="278.61" y2="440.00" stroke="#222" stroke-width="1.1"/>
<text x="278.61" y="451.00" font-size="8.4" text-anchor="middle" textLength="24.80" lengthAdjust="spacingAndGlyphs" fill="#222" stroke="#222" stroke-width="0.08">5 min -</text>
<path d="M276.41,467.60H280.81M278.61,465.30V469.90" stroke="#404040" stroke-width="1.15" fill="none"/>
<path d="M276.41,497.80H280.81M278.61,495.50V500.10" stroke="#404040" stroke-width="1.15" fill="none"/>
<rect x="303.36" y="258.00" width="7.00" height="179.20" fill="#a3002d"/>
<line x1="306.86" y1="255.90" x2="306.86" y2="258.00" stroke="#222" stroke-width="1.1"/>
<line x1="305.06" y1="255.90" x2="308.66" y2="255.90" stroke="#222" stroke-width="1.1"/>
<path d="M304.27,253.90L304.87,249.10M305.48,253.90L306.08,249.10M303.66,252.32H306.36M303.86,250.68H306.56" stroke="#4a4a4a" stroke-width="0.85" fill="none"/>
<path d="M308.37,253.90L308.97,249.10M309.58,253.90L310.19,249.10M307.76,252.32H310.46M307.96,250.68H310.66" stroke="#4a4a4a" stroke-width="0.85" fill="none"/>
<rect x="312.33" y="278.20" width="7.00" height="159.00" fill="#2e4b7e"/>
<line x1="315.83" y1="275.40" x2="315.83" y2="278.20" stroke="#222" stroke-width="1.1"/>
<line x1="314.03" y1="275.40" x2="317.63" y2="275.40" stroke="#222" stroke-width="1.1"/>
<path d="M313.83,268.10V273.70M312.33,270.10H315.33" stroke="#333" stroke-width="1" fill="none"/>
<path d="M317.83,268.10V273.70M316.33,270.10H319.33" stroke="#333" stroke-width="1" fill="none"/>
<rect x="321.30" y="296.60" width="7.00" height="140.60" fill="#69a84a"/>
<line x1="324.80" y1="291.40" x2="324.80" y2="296.60" stroke="#222" stroke-width="1.1"/>
<line x1="323.00" y1="291.40" x2="326.60" y2="291.40" stroke="#222" stroke-width="1.1"/>
<path d="M322.80,284.10V289.70M321.30,286.10H324.30" stroke="#333" stroke-width="1" fill="none"/>
<path d="M326.80,284.10V289.70M325.30,286.10H328.30" stroke="#333" stroke-width="1" fill="none"/>
<rect x="330.27" y="275.90" width="7.00" height="161.30" fill="#522466"/>
<line x1="333.77" y1="269.40" x2="333.77" y2="275.90" stroke="#222" stroke-width="1.1"/>
<line x1="331.97" y1="269.40" x2="335.57" y2="269.40" stroke="#222" stroke-width="1.1"/>
<path d="M333.77,262.10V267.70M332.27,264.10H335.27" stroke="#333" stroke-width="1" fill="none"/>
<line x1="320.31" y1="437.20" x2="320.31" y2="440.00" stroke="#222" stroke-width="1.1"/>
<text x="320.31" y="451.00" font-size="8.4" text-anchor="middle" textLength="28.20" lengthAdjust="spacingAndGlyphs" fill="#222" stroke="#222" stroke-width="0.08">15 min -</text>
<path d="M318.12,467.60H322.51M320.31,465.30V469.90" stroke="#404040" stroke-width="1.15" fill="none"/>
<path d="M318.12,497.80H322.51M320.31,495.50V500.10" stroke="#404040" stroke-width="1.15" fill="none"/>
<rect x="345.07" y="255.60" width="7.00" height="181.60" fill="#a3002d"/>
<line x1="348.57" y1="254.50" x2="348.57" y2="255.60" stroke="#222" stroke-width="1.1"/>
<line x1="346.77" y1="254.50" x2="350.37" y2="254.50" stroke="#222" stroke-width="1.1"/>
<path d="M345.98,252.50L346.58,247.70M347.19,252.50L347.80,247.70M345.37,250.92H348.07M345.57,249.28H348.27" stroke="#4a4a4a" stroke-width="0.85" fill="none"/>
<path d="M350.08,252.50L350.68,247.70M351.30,252.50L351.90,247.70M349.47,250.92H352.17M349.67,249.28H352.37" stroke="#4a4a4a" stroke-width="0.85" fill="none"/>
<rect x="354.04" y="268.60" width="7.00" height="168.60" fill="#2e4b7e"/>
<line x1="357.54" y1="266.90" x2="357.54" y2="268.60" stroke="#222" stroke-width="1.1"/>
<line x1="355.74" y1="266.90" x2="359.34" y2="266.90" stroke="#222" stroke-width="1.1"/>
<path d="M357.54,259.60V265.20M356.04,261.60H359.04" stroke="#333" stroke-width="1" fill="none"/>
<rect x="363.01" y="273.60" width="7.00" height="163.60" fill="#69a84a"/>
<line x1="366.51" y1="268.50" x2="366.51" y2="273.60" stroke="#222" stroke-width="1.1"/>
<line x1="364.71" y1="268.50" x2="368.31" y2="268.50" stroke="#222" stroke-width="1.1"/>
<path d="M366.51,261.20V266.80M365.01,263.20H368.01" stroke="#333" stroke-width="1" fill="none"/>
<rect x="371.98" y="259.20" width="7.00" height="178.00" fill="#522466"/>
<line x1="375.48" y1="255.80" x2="375.48" y2="259.20" stroke="#222" stroke-width="1.1"/>
<line x1="373.68" y1="255.80" x2="377.28" y2="255.80" stroke="#222" stroke-width="1.1"/>
<line x1="362.03" y1="437.20" x2="362.03" y2="440.00" stroke="#222" stroke-width="1.1"/>
<text x="362.03" y="451.00" font-size="8.4" text-anchor="middle" textLength="29.00" lengthAdjust="spacingAndGlyphs" fill="#222" stroke="#222" stroke-width="0.08">30 min -</text>
<path d="M359.83,467.60H364.23M362.03,465.30V469.90" stroke="#404040" stroke-width="1.15" fill="none"/>
<path d="M359.83,497.80H364.23M362.03,495.50V500.10" stroke="#404040" stroke-width="1.15" fill="none"/>
<text x="50.50" y="463.60" font-size="8.4" text-anchor="end" textLength="22.50" lengthAdjust="spacingAndGlyphs" fill="#222" stroke="#222" stroke-width="0.08">OxLDL</text>
<text x="51.20" y="473.40" font-size="8.4" text-anchor="end" textLength="38.40" lengthAdjust="spacingAndGlyphs" fill="#222" stroke="#222" stroke-width="0.08">(50 µg/mL)</text>
<text x="50.50" y="493.70" font-size="8.4" text-anchor="end" textLength="34.50" lengthAdjust="spacingAndGlyphs" fill="#222" stroke="#222" stroke-width="0.08">Convulxin</text>
<text x="51.20" y="503.60" font-size="8.4" text-anchor="end" textLength="42.50" lengthAdjust="spacingAndGlyphs" fill="#222" stroke="#222" stroke-width="0.08">(500 ng/mL,</text>
<text x="51.20" y="513.20" font-size="8.4" text-anchor="end" textLength="22.10" lengthAdjust="spacingAndGlyphs" fill="#222" stroke="#222" stroke-width="0.08">5 min)</text>
<text x="55.40" y="469.90" font-size="7.6" text-anchor="middle" fill="#333" stroke="#333" stroke-width="0.08">:</text>
<text x="55.40" y="500.70" font-size="7.6" text-anchor="middle" fill="#333" stroke="#333" stroke-width="0.08">:</text>
<rect x="0" y="0" width="520" height="1.3" fill="#0e0e0e"/>
<rect x="0" y="0" width="1.5" height="523" fill="#202020"/>
<rect x="518.3" y="0" width="1.7" height="523" fill="#181818"/>
<rect x="0" y="521.4" width="520" height="1.6" fill="#262626"/>
</svg>
</body></html>
